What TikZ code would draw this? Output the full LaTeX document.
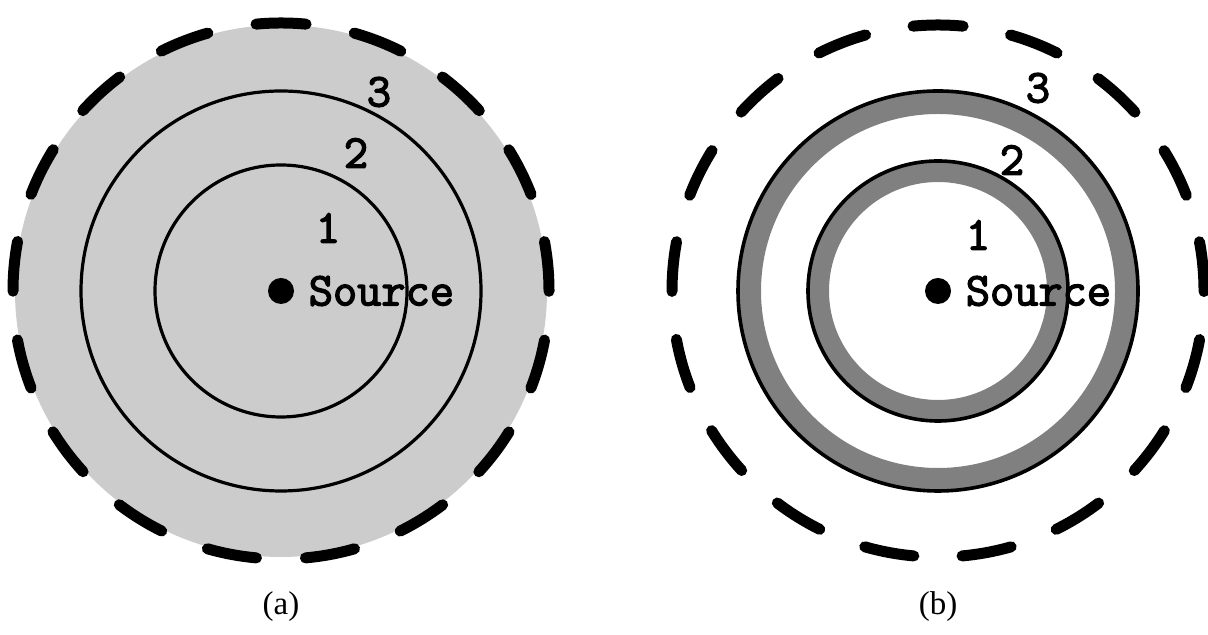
\documentclass[tikz,border=0pt]{standalone}
\usepackage{fontspec}
\setmainfont{Liberation Serif}
\newfontfamily\srcfont{Latin Modern Mono}[FakeBold=3]
\usetikzlibrary{positioning}
\begin{document}
\begin{tikzpicture}[x=0.5pt,y=0.5pt,
  every node/.style={inner sep=0pt},
  mono/.style={font=\fontsize{23.5}{25}\selectfont\srcfont},
  srcdot/.style={circle,fill=black,minimum size=13pt},
  outerdash/.style={line width=5.5pt,line cap=round,dash phase=12.5pt},
  captext/.style={font=\fontsize{16.5}{18}\selectfont}]
  \useasboundingbox (0,0) rectangle (1208,635);
  % (a) filled region
  \coordinate (cA) at (281,344);
  \fill[black!20] (cA) circle (266);
  \draw[outerdash,dash pattern={on 25pt off 24.53pt}] (cA) ++(0,268) arc[start angle=90,end angle=450,radius=268];
  \draw[line width=1.6pt] (cA) circle (126);
  \draw[line width=1.6pt] (cA) circle (200);
  \node[srcdot] (dotA) at (cA) {};
  \node[mono,right=7pt of dotA] (txtA) {Source};
  \node[mono] (oneA) at (328,407) {1};
  \node[mono] (twoA) at (356,482) {2};
  \node[mono] (threeA) at (379,543) {3};
  \node[captext] (capA) at (281,28) {(a)};
  % (b) rings
  \coordinate (cB) at (938,344);
  \draw[outerdash,dash pattern={on 25pt off 24.16pt}] (cB) ++(0,266) arc[start angle=90,end angle=450,radius=266];
  \fill[black!50,even odd rule] (cB) circle (200) (cB) circle (177);
  \fill[black!50,even odd rule] (cB) circle (130) (cB) circle (109);
  \draw[line width=1.8pt] (cB) circle (200);
  \draw[line width=1.8pt] (cB) circle (130);
  \node[srcdot] (dotB) at (cB) {};
  \node[mono,right=7pt of dotB] (txtB) {Source};
  \node[mono] (oneB) at (978,400) {1};
  \node[mono] (twoB) at (1012,475) {2};
  \node[mono] (threeB) at (1038,547) {3};
  \node[captext] (capB) at (938,28) {(b)};
\end{tikzpicture}
\end{document}
